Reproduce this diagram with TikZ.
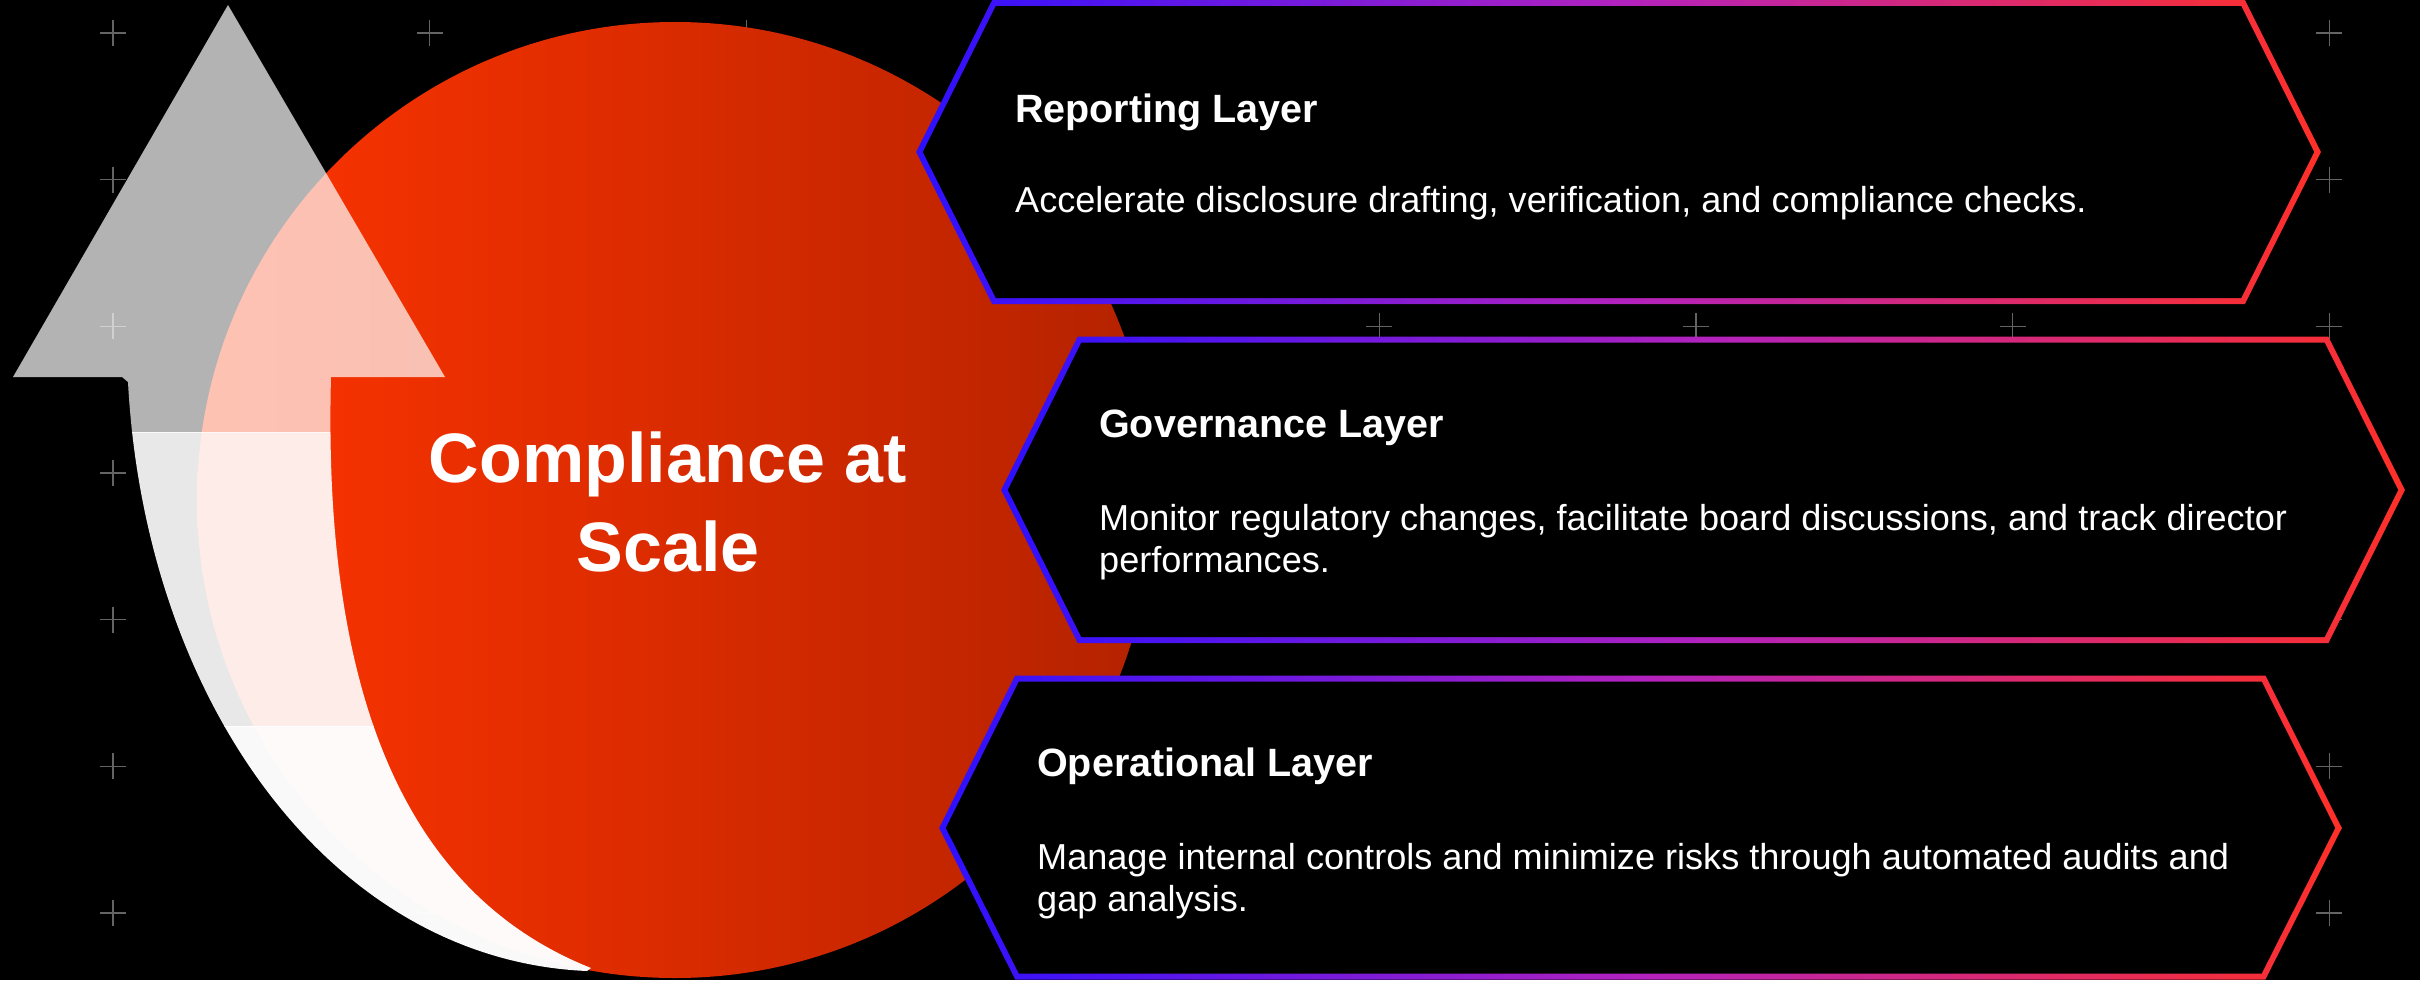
\documentclass[tikz,border=0pt]{standalone}
\usepackage{fontspec}
\setmainfont{Liberation Sans}
\definecolor{circL}{RGB}{255,52,0}
\definecolor{circR}{RGB}{180,34,0}
\definecolor{hexL}{RGB}{45,16,255}
\definecolor{hexM}{RGB}{178,34,190}
\definecolor{hexR}{RGB}{255,48,40}
\definecolor{plusgray}{RGB}{100,100,100}
% #1 x0 (left point), #2 x1 (top-left corner), #3 x2 (top-right corner), #4 x3 (right point), #5 y top, #6 y middle, #7 y bottom
\newcommand{\layerhex}[7]{%
  \shade[hexgrad] (#2-1.854,#5-3) -- (#1-3.354,#6) -- (#2-1.854,#7+3) -- (#3+1.854,#7+3) -- (#4+3.354,#6) -- (#3+1.854,#5-3) -- cycle;
  \fill[black] (#2+1.854,#5+3) -- (#1+3.354,#6) -- (#2+1.854,#7-3) -- (#3-1.854,#7-3) -- (#4-3.354,#6) -- (#3-1.854,#5+3) -- cycle;
}
\begin{document}
\begin{tikzpicture}[x=1pt,y=-1pt,
  plusmark/.style={draw=plusgray, line width=1.4pt},
  hexgrad/.style={left color=hexL, right color=hexR, middle color=hexM},
  layertitle/.style={anchor=base west, inner sep=0pt, text=white, font=\fontsize{39.5}{47}\selectfont\bfseries},
  layerbody/.style={anchor=north west, inner sep=0pt, text=white, align=left, font=\fontsize{36.1}{42.5}\selectfont},
  centertitle/.style={anchor=north, inner sep=0pt, text=white, align=center, font=\fontsize{70}{89}\selectfont\bfseries}]
\fill[black] (0,0) rectangle (2420,980);
\useasboundingbox (0,0) rectangle (2420,980);

% background grid of plus marks
\foreach \i in {0,...,7} {
  \foreach \j in {0,...,6} {
    \draw[plusmark] (113+316.6*\i-13, 33+146.65*\j) -- ++(26,0)
                    (113+316.6*\i, 33+146.65*\j-13) -- ++(0,26);
  }
}

% red disc
\shade[left color=circL, right color=circR] (675,500) circle[radius=478pt];

% translucent curved arrow, in three bands
\foreach \ya/\yb/\op in {0/432/0.70, 432/726.5/0.91, 726.5/980/0.975} {
  \begin{scope}
    \clip (0,\ya) rectangle (720,\yb);
    \fill[white, fill opacity=\op] (228,5) -- (445,377) -- (331,377)
      .. controls (322,720) and (420,900) .. (591,968)
      -- (587,971)
      .. controls (330,960) and (145,700) .. (128,382)
      -- (122,377) -- (13,377) -- cycle;
  \end{scope}
}

\node[centertitle] (core) at (668,422) {\rule{0pt}{60pt}Compliance at\\Scale};

% layer hexagons
\layerhex{919.5}{994}{2243}{2317.5}{3}{152}{301}
\layerhex{1004.5}{1079.5}{2326.5}{2401.5}{339.7}{490}{640}
\layerhex{942.5}{1017}{2263.5}{2338.5}{678.5}{828}{976.5}

\node[layertitle] (rtitle) at (1015,122) {Reporting Layer};
\node[layerbody] (rbody) at (1015,182) {\rule{0pt}{30pt}Accelerate disclosure drafting, verification, and compliance checks.};

\node[layertitle] (gtitle) at (1099,437.5) {Governance Layer};
\node[layerbody] (gbody) at (1099,500) {\rule{0pt}{30pt}Monitor regulatory changes, facilitate board discussions, and track director\\performances.};

\node[layertitle] (otitle) at (1037,776) {Operational Layer};
\node[layerbody] (obody) at (1037,839) {\rule{0pt}{30pt}Manage internal controls and minimize risks through automated audits and\\gap analysis.};
\end{tikzpicture}
\end{document}
